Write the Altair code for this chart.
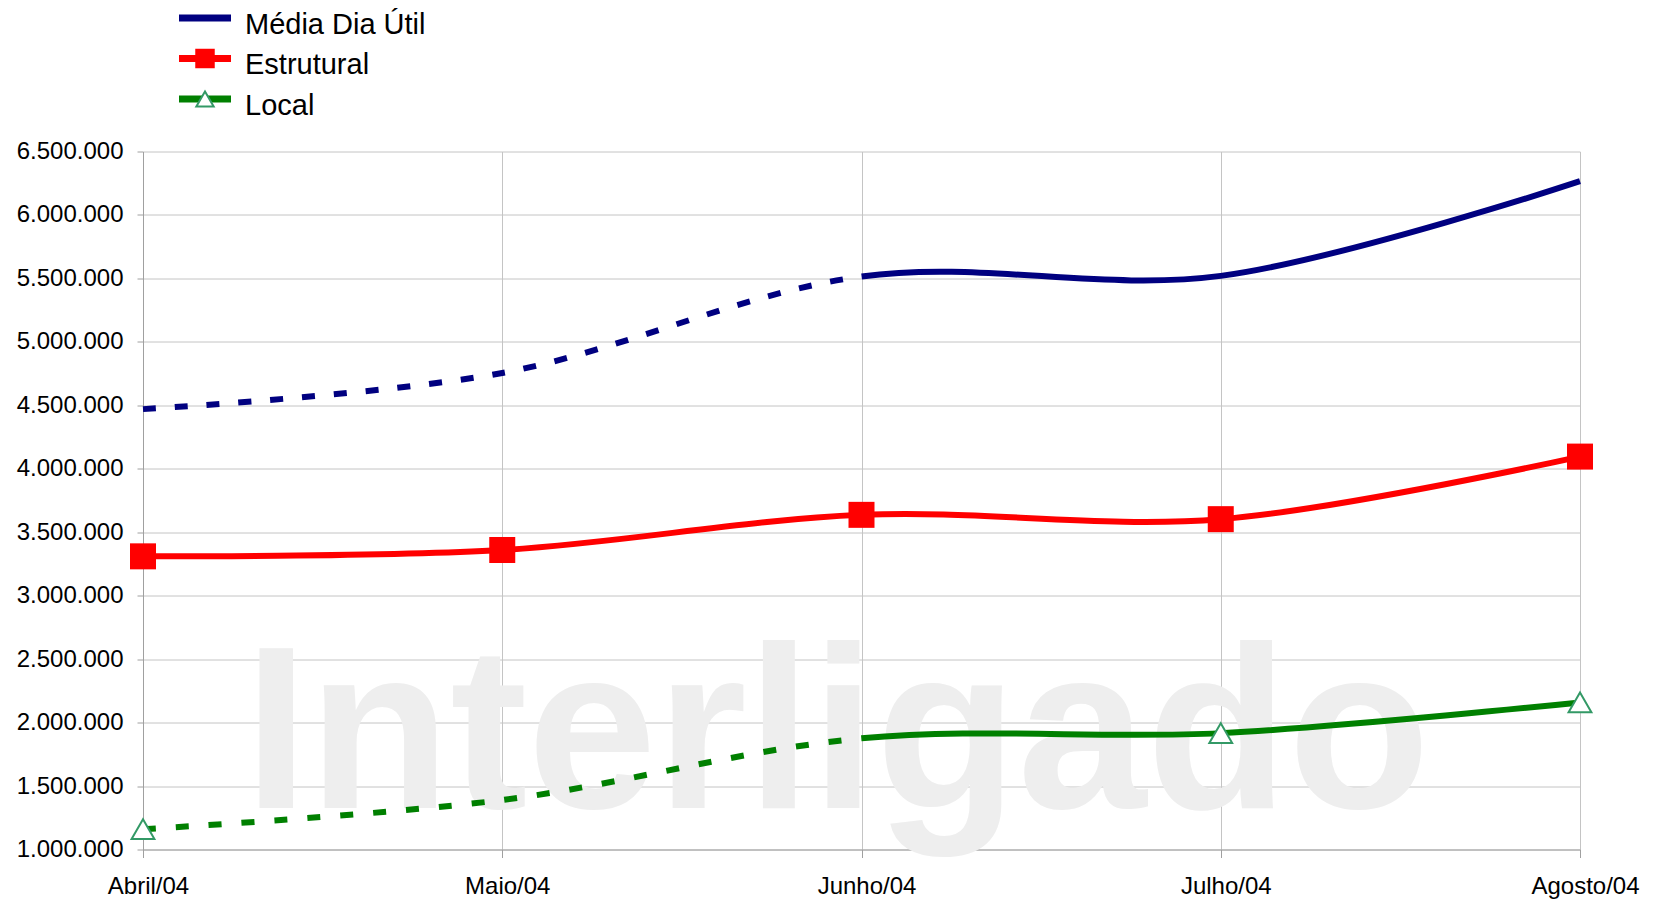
import altair as alt
import pandas as pd

# ---------------- data ----------------
months = ["Abril/04", "Maio/04", "Junho/04", "Julho/04", "Agosto/04"]
series_names = ["Média Dia Útil", "Estrutural", "Local"]
media = [4470000, 4755000, 5515000, 5520000, 6266000]
estrutural = [3310000, 3360000, 3637000, 3603000, 4096000]
local = [1160000, 1390000, 1876000, 1917000, 2159000]
estrutural_marker_months = months
local_marker_months = ["Abril/04", "Julho/04", "Agosto/04"]
y_ticks = [1000000, 1500000, 2000000, 2500000, 3000000, 3500000,
           4000000, 4500000, 5000000, 5500000, 6000000, 6500000]
series_colors = ["#000080", "#ff0000", "#008000"]
watermark = "Interligado"

# ---------------- line styles (dashed stretch Abril->Junho, then solid) ----------------
dash_media = [13, 18.9] * 23 + [3000, 0]
dash_local = [13, 19.95] * 22 + [3000, 0]
dash_solid = [3000, 0]
dash_styles = [dash_media, dash_solid, dash_local]

# ---------------- tables ----------------
all_values = [media, estrutural, local]
rows = []
for s, vals in zip(series_names, all_values):
    for i, (m, v) in enumerate(zip(months, vals)):
        rows.append({"serie": s, "mes": m, "valor": v, "ordem": i})
lines_df = pd.DataFrame(rows)

sq_df = pd.DataFrame({"serie": "Estrutural", "mes": months, "valor": estrutural})
sq_df = sq_df[sq_df["mes"].isin(estrutural_marker_months)]
tri_df = pd.DataFrame({"serie": "Local", "mes": months, "valor": local})
tri_df = tri_df[tri_df["mes"].isin(local_marker_months)]
legend_df = pd.DataFrame({"serie": series_names})

# ---------------- encodings ----------------
x_enc = alt.X(
    "mes:N",
    sort=months,
    scale=alt.Scale(type="point", domain=months, padding=0),
    axis=alt.Axis(title=None, labelAngle=0, tickSize=8, labelPadding=17,
                  labelOffset=5, grid=True),
)
y_enc = alt.Y(
    "valor:Q",
    scale=alt.Scale(domain=[1000000, 6500000], nice=False, zero=False),
    axis=alt.Axis(title=None, values=y_ticks, tickSize=6, labelPadding=14, grid=True,
                  labelExpr="replace(replace(format(datum.value, ',d'), ',', '.'), ',', '.')"),
)
color_enc = alt.Color("serie:N", scale=alt.Scale(domain=series_names, range=series_colors),
                      legend=None)

line_layers = []
for s, dash in zip(series_names, dash_styles):
    line_layers.append(
        alt.Chart(lines_df).transform_filter(alt.datum.serie == s).mark_line(
            interpolate="cardinal", strokeWidth=6, strokeDash=dash, strokeCap="butt"
        ).encode(x=x_enc, y=y_enc, color=color_enc, order="ordem:Q")
    )

squares = alt.Chart(sq_df).mark_point(
    shape="square", filled=True, size=676, color="#ff0000", opacity=1
).encode(x=x_enc, y=y_enc)
triangles = alt.Chart(tri_df).mark_point(
    shape="triangle-up", filled=True, fill="white", stroke="#339966",
    strokeWidth=2, size=520, opacity=1
).encode(x=x_enc, y=y_enc)

main = alt.layer(*line_layers, squares, triangles)

# ---------------- legend (drawn above the plot) ----------------
leg_y = alt.Y("serie:N", scale=alt.Scale(type="point", domain=series_names,
                                          range=[-133.5, -52.5], padding=0), axis=None)
leg_lines = alt.Chart(legend_df).mark_rule(strokeWidth=7).encode(
    x=alt.value(36), x2=alt.value(88), y=leg_y, color=color_enc)
leg_sq = alt.Chart(legend_df).transform_filter(alt.datum.serie == "Estrutural").mark_point(
    shape="square", filled=True, size=380, color="#ff0000", opacity=1
).encode(x=alt.value(62), y=leg_y)
leg_tri = alt.Chart(legend_df).transform_filter(alt.datum.serie == "Local").mark_point(
    shape="triangle-up", filled=True, fill="white", stroke="#339966", strokeWidth=2,
    size=300, opacity=1
).encode(x=alt.value(62), y=leg_y)
leg_text = alt.Chart(legend_df).mark_text(
    align="left", baseline="middle", font="Liberation Sans", fontSize=29, dy=6.5, color="black"
).encode(x=alt.value(102), y=leg_y, text="serie:N")
legend = alt.layer(leg_lines, leg_sq, leg_tri, leg_text)

# ---------------- watermark ----------------
wm = alt.Chart(alt.Data(values=[{"t": watermark}])).mark_text(
    align="center", baseline="alphabetic", font="Liberation Sans", fontWeight="bold",
    fontSize=232, color="#eeeeee"
).encode(x=alt.value(694), y=alt.value(656), text="t:N")

chart = alt.layer(wm, main, legend).resolve_scale(y="independent").properties(
    width=1437,
    height=698,
    padding={"left": 135, "top": 143.5, "right": 73, "bottom": 50},
    autosize=alt.AutoSizeParams(type="none"),
    background="white",
).configure_view(stroke=None).configure_axis(
    labelFont="Liberation Sans",
    labelFontSize=24,
    labelColor="black",
    gridColor="#c4c4c4",
    gridWidth=1,
    domainColor="#a0a0a0",
    tickColor="#a0a0a0",
)

chart.save("out.html", embed_options={"renderer": "svg", "actions": False})
